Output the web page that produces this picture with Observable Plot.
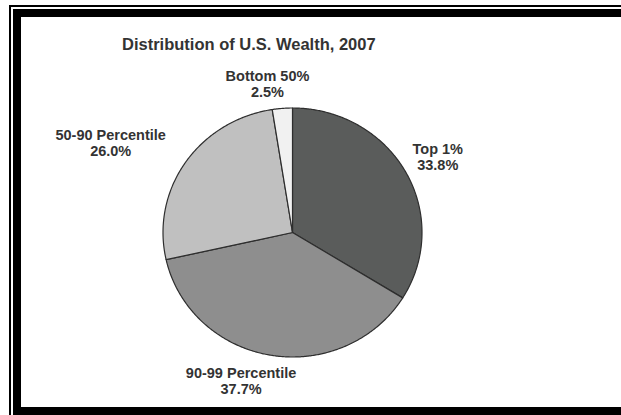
<!DOCTYPE html>
<html>
<head>
<meta charset="utf-8">
<script src="https://cdn.jsdelivr.net/npm/d3@7"></script>
<script src="https://cdn.jsdelivr.net/npm/@observablehq/plot@0.6"></script>
<style>
  html, body { margin: 0; padding: 0; background: #fff; }
  body { width: 621px; height: 415px; overflow: hidden; position: relative; font-family: "Liberation Sans", Arial, sans-serif; }
  #chart { position: absolute; left: 0; top: 0; }
  #title { position: absolute; left: 0; width: 621px; top: 35px; font-size: 16.5px; font-weight: bold; color: #333; white-space: nowrap; }
  #title span { position: absolute; left: 122px; }
  .frame { position: absolute; box-sizing: border-box; }
  #outer { left: 9px; top: 5px; width: 700px; height: 500px; border-left: 2px solid #000; border-top: 2px solid #000; }
  #inner { left: 13px; top: 9px; width: 700px; height: 406px; border-left: 8px solid #000; border-top: 8px solid #000; border-bottom: 8px solid #000; }
</style>
</head>
<body>
<div id="chart"></div>
<div id="title"><span>Distribution of U.S. Wealth, 2007</span></div>
<div class="frame" id="outer"></div>
<div class="frame" id="inner"></div>
<script>
// Data
const categories = ["Top 1%", "90-99 Percentile", "50-90 Percentile", "Bottom 50%"];
const shares = [33.8, 37.7, 26.0, 2.5];
const valueLabels = ["33.8%", "37.7%", "26.0%", "2.5%"];
const sliceColors = ["#5a5c5b", "#8e8e8e", "#c0c0c0", "#f1f1f1"];

// label nudges (in pie-radius units) from the default label point
const labelNudgeX = [0.03, -0.19, -0.37, -0.095];
const labelNudgeY = [0.0, 0.044, 0.02, -0.049];
const labelRadius = 1.25;

const total = d3.sum(shares);
const wedgePoints = [];
const labelData = [];
let start = 0;
categories.forEach((cat, i) => {
  const a0 = start / total * 2 * Math.PI;
  const a1 = (start + shares[i]) / total * 2 * Math.PI;
  wedgePoints.push({cat, x: 0, y: 0});
  const n = Math.max(2, Math.ceil((a1 - a0) / (Math.PI / 360)));
  for (let k = 0; k <= n; k++) {
    const a = a0 + (a1 - a0) * k / n;
    wedgePoints.push({cat, x: Math.sin(a), y: Math.cos(a)});
  }
  wedgePoints.push({cat, x: 0, y: 0});
  const am = (a0 + a1) / 2;
  labelData.push({
    text: cat + "\n" + valueLabels[i],
    x: Math.sin(am) * labelRadius + labelNudgeX[i],
    y: Math.cos(am) * labelRadius + labelNudgeY[i]
  });
  start += shares[i];
});

const cx = 292, cy = 232, rx = 129.5, ry = 124.5;

const chart = Plot.plot({
  width: 621,
  height: 415,
  margin: 0,
  x: {domain: [-1, 1], range: [cx - rx, cx + rx], axis: null},
  y: {domain: [-1, 1], range: [cy + ry, cy - ry], axis: null},
  color: {domain: categories, range: sliceColors},
  style: {background: "#fff", fontFamily: "'Liberation Sans', Arial, sans-serif"},
  marks: [
    Plot.line(wedgePoints, {x: "x", y: "y", z: "cat", fill: "cat", stroke: "#2e2e2e", strokeWidth: 1.2, curve: "linear"}),
    Plot.text(labelData, {x: "x", y: "y", text: "text", fontSize: 14.5, fontWeight: "bold", fill: "#333", lineHeight: 1.12, textAnchor: "middle"})
  ]
});
document.getElementById("chart").appendChild(chart);
</script>
</body>
</html>
